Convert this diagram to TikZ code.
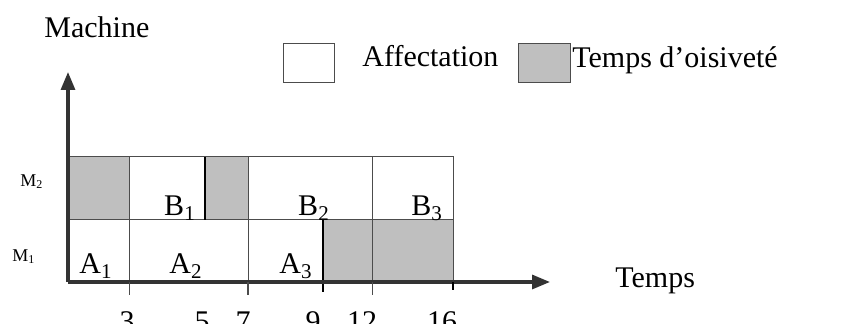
\documentclass[tikz,border=0pt]{standalone}
\usepackage{fontspec}
\setmainfont{Liberation Serif}
\usetikzlibrary{arrows.meta}

\begin{document}
\begin{tikzpicture}[x=0.5pt, y=-0.5pt,
    cell/.style={draw=black!70, line width=0.5pt},
    idle/.style={cell, fill=black!25},
    axis/.style={draw=black!80, line width=1.6pt, -{Triangle[length=9pt, width=7pt]}},
    big/.style={font=\fontsize{15}{18}\selectfont, inner sep=0pt},
    small/.style={font=\fontsize{9}{11}\selectfont, inner sep=0pt}]
    \useasboundingbox (0,0) rectangle (866,324);

    % Rangée M2
    \draw[idle] (68,157) rectangle (129,220);
    \draw[cell] (129,157) rectangle (205,220);
    \draw[idle] (205,157) rectangle (248,220);
    \draw[cell] (248,157) rectangle (372,220);
    \draw[cell] (372,157) rectangle (453,220);

    % Rangée M1
    \draw[cell] (68,220) rectangle (129,282);
    \draw[cell] (129,220) rectangle (248,282);
    \draw[cell] (248,220) rectangle (323,282);
    \draw[idle] (323,220) rectangle (372,282);
    \draw[idle] (372,220) rectangle (453,282);

    % Fins de tâches
    \draw[line width=1pt] (205,157) -- (205,220);
    \draw[line width=1pt] (323,220) -- (323,292);

    % Axes
    \coordinate (origin) at (68,282);
    \coordinate (ytip) at (68,72);
    \coordinate (xtip) at (550,282);
    \draw[axis] (origin) -- (ytip);
    \draw[axis] (origin) -- (xtip);

    % Graduations
    \draw[black!70, line width=0.5pt] (129,282) -- (129,295);
    \draw[black!70, line width=0.8pt] (248,282) -- (248,295);
    \draw[black!70, line width=0.5pt] (372,282) -- (372,295);
    \draw[line width=1pt] (453,282) -- (453,290);
    \node[big, anchor=base] (t3) at (127,332) {3};
    \node[big, anchor=base] (t5) at (202,332) {5};
    \node[big, anchor=base] (t7) at (243,332) {7};
    \node[big, anchor=base] (t9) at (313,332) {9};
    \node[big, anchor=base] (t12) at (362,332) {12};
    \node[big, anchor=base] (t16) at (442,332) {16};

    % Tâches
    \node[big, anchor=base] (a1) at (96,274) {A\textsubscript{1}};
    \node[big, anchor=base] (a2) at (186,274) {A\textsubscript{2}};
    \node[big, anchor=base] (a3) at (296,274) {A\textsubscript{3}};
    \node[big, anchor=base] (b1) at (180,216) {B\textsubscript{1}};
    \node[big, anchor=base] (b2) at (314,216) {B\textsubscript{2}};
    \node[big, anchor=base] (b3) at (427,216) {B\textsubscript{3}};

    % Machines
    \node[small, anchor=base west] (m2) at (20,187) {M\textsubscript{2}};
    \node[small, anchor=base west] (m1) at (12,262) {M\textsubscript{1}};

    % Titres des axes
    \node[big, anchor=base west] (machine) at (44,38) {Machine};
    \node[big, anchor=base west] (temps) at (615,288) {Temps};

    % Légende
    \draw[cell] (283,44) rectangle (334,83);
    \node[big, anchor=base west] (affect) at (362,67) {Affectation};
    \draw[idle] (518,44) rectangle (570,83);
    \node[big, anchor=base west] (oisiv) at (572,68) {Temps d’oisiveté};
\end{tikzpicture}
\end{document}
